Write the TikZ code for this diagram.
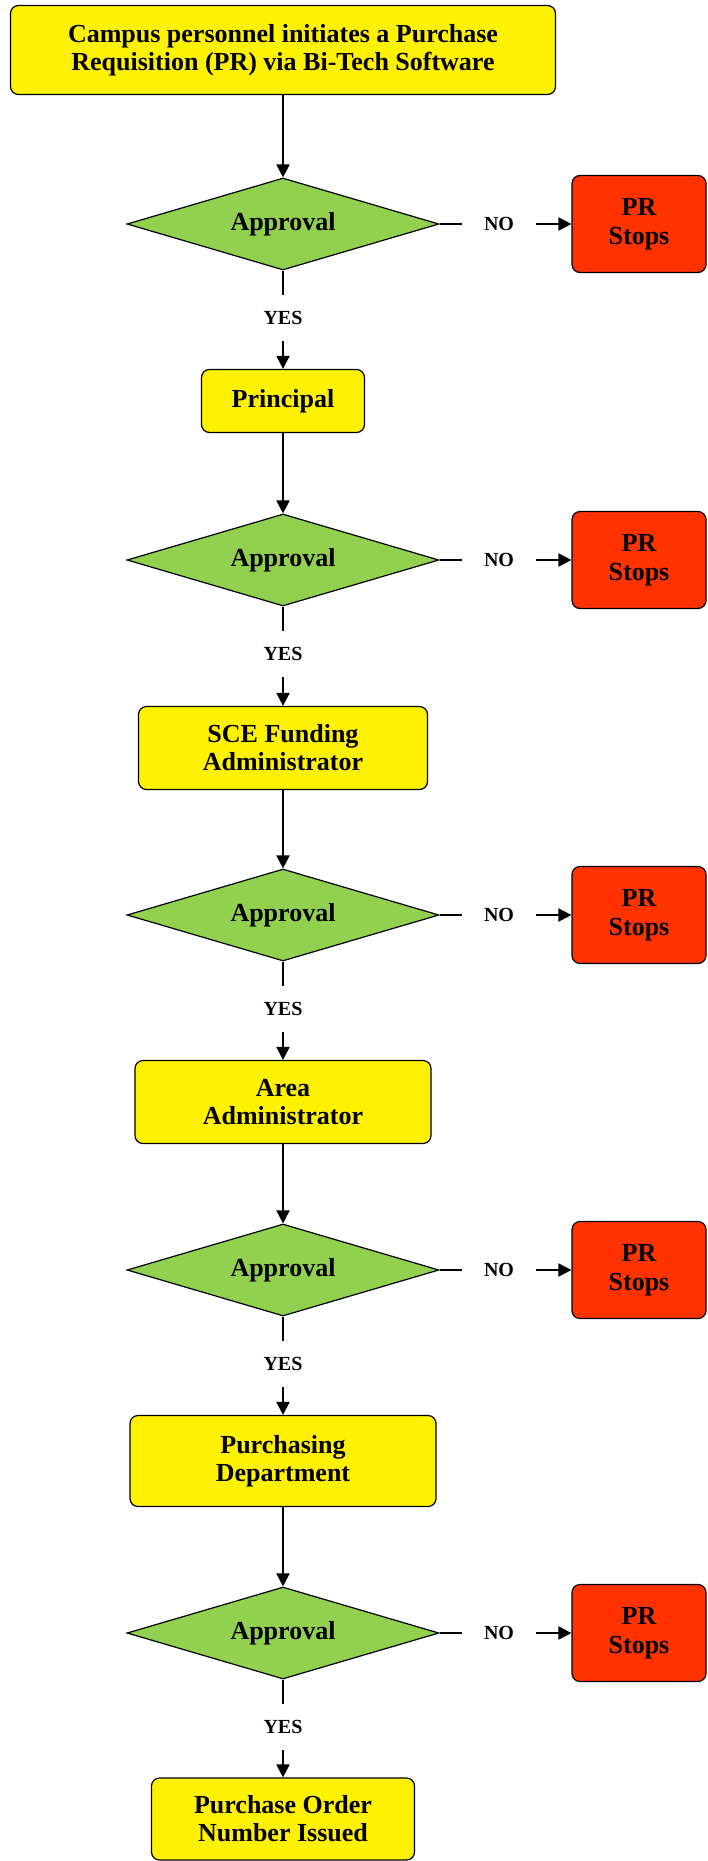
\documentclass[tikz,border=0pt]{standalone}
\usepackage{fontspec}
\setmainfont{Liberation Serif}
\usetikzlibrary{arrows.meta,shapes.geometric}
\definecolor{appgreen}{HTML}{92D050}
\definecolor{stopred}{HTML}{FF3300}

\begin{document}
\begin{tikzpicture}[x=1pt,y=1pt,>={Triangle[length=13pt,width=13pt]},line width=1.2pt,
	task/.style={draw,rounded corners=8pt,fill=yellow,align=center,inner sep=0pt,font=\bfseries\fontsize{26}{28}\selectfont},
	check/.style={draw,diamond,aspect=3.4,fill=appgreen,inner sep=0pt,minimum width=312pt,minimum height=92pt,font=\bfseries\fontsize{26}{28}\selectfont},
	halt/.style={draw,rounded corners=8pt,fill=stopred,align=center,inner sep=0pt,minimum width=134pt,minimum height=97pt,font=\bfseries\fontsize{26}{29}\selectfont},
	tag/.style={inner xsep=21pt,inner ysep=16pt,font=\bfseries\fontsize{20}{22}\selectfont}]

\useasboundingbox (0,0) rectangle (707,-1861);

\node[task,minimum width=545pt,minimum height=89pt]   (init) at (283,-50)	{Campus personnel initiates a Purchase\\Requisition (PR) via Bi-Tech Software};
\node[check]   (ok1)[below of=init,node distance=174pt]	{Approval};
\node[task,minimum width=163pt,minimum height=63pt]   (prin)[below of=ok1,node distance=177pt]	{Principal};
\node[check]   (ok2)[below of=prin,node distance=159pt]	{Approval};
\node[task,minimum width=289pt,minimum height=83pt]   (sce)[below of=ok2,node distance=188pt]	{SCE Funding\\Administrator};
\node[check]   (ok3)[below of=sce,node distance=167pt]	{Approval};
\node[task,minimum width=296pt,minimum height=83pt]   (area)[below of=ok3,node distance=187pt]	{Area\\Administrator};
\node[check]   (ok4)[below of=area,node distance=168pt]	{Approval};
\node[task,minimum width=306pt,minimum height=91pt]   (purch)[below of=ok4,node distance=191pt]	{Purchasing\\Department};
\node[check]   (ok5)[below of=purch,node distance=172pt]	{Approval};
\node[task,minimum width=263pt,minimum height=82pt]   (po)[below of=ok5,node distance=186pt]	{Purchase Order\\Number Issued};

\node[tag]   (no1)[right of=ok1,node distance=216pt]	{NO};
\node[tag]   (no2)[right of=ok2,node distance=216pt]	{NO};
\node[tag]   (no3)[right of=ok3,node distance=216pt]	{NO};
\node[tag]   (no4)[right of=ok4,node distance=216pt]	{NO};
\node[tag]   (no5)[right of=ok5,node distance=216pt]	{NO};

\node[halt]   (stop1)[right of=ok1,node distance=356pt]	{PR\\Stops};
\node[halt]   (stop2)[right of=ok2,node distance=356pt]	{PR\\Stops};
\node[halt]   (stop3)[right of=ok3,node distance=356pt]	{PR\\Stops};
\node[halt]   (stop4)[right of=ok4,node distance=356pt]	{PR\\Stops};
\node[halt]   (stop5)[right of=ok5,node distance=356pt]	{PR\\Stops};

\node[tag]   (yes1)[below of=ok1,node distance=94pt]	{YES};
\node[tag]   (yes2)[below of=ok2,node distance=94pt]	{YES};
\node[tag]   (yes3)[below of=ok3,node distance=94pt]	{YES};
\node[tag]   (yes4)[below of=ok4,node distance=94pt]	{YES};
\node[tag]   (yes5)[below of=ok5,node distance=94pt]	{YES};

	\path[->,line width=2pt] (init)  edge	(ok1)
						(ok1)  edge[-]	(no1)
						(no1)  edge	(stop1)
						(ok1)  edge[-]	(yes1)
						(yes1)  edge	(prin)
						(prin)  edge	(ok2)
						(ok2)  edge[-]	(no2)
						(no2)  edge	(stop2)
						(ok2)  edge[-]	(yes2)
						(yes2)  edge	(sce)
						(sce)  edge	(ok3)
						(ok3)  edge[-]	(no3)
						(no3)  edge	(stop3)
						(ok3)  edge[-]	(yes3)
						(yes3)  edge	(area)
						(area)  edge	(ok4)
						(ok4)  edge[-]	(no4)
						(no4)  edge	(stop4)
						(ok4)  edge[-]	(yes4)
						(yes4)  edge	(purch)
						(purch)  edge	(ok5)
						(ok5)  edge[-]	(no5)
						(no5)  edge	(stop5)
						(ok5)  edge[-]	(yes5)
						(yes5)  edge	(po);

\end{tikzpicture}
\end{document}
